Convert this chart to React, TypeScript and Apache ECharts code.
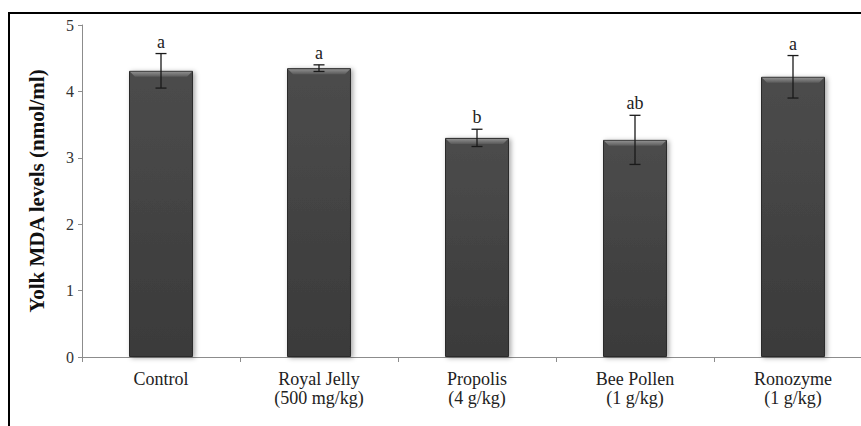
import React, { useEffect, useRef } from "react";
import * as echarts from "echarts";

const categories = [
  "Control",
  "Royal Jelly\n(500 mg/kg)",
  "Propolis\n(4 g/kg)",
  "Bee Pollen\n(1 g/kg)",
  "Ronozyme\n(1 g/kg)",
];
const means = [4.31, 4.35, 3.3, 3.27, 4.22];
const errors = [0.26, 0.05, 0.13, 0.37, 0.32];
const letters = ["a", "a", "b", "ab", "a"];
const yTicks = { min: 0, max: 5, interval: 1 };

const FONT = "Liberation Serif, serif";

export default function App() {
  const ref = useRef<HTMLDivElement>(null);
  useEffect(() => {
    if (!ref.current) return;
    const chart = echarts.init(ref.current, undefined, { renderer: "svg" });
    const overlayData = means.map((m, i) => [i, m, errors[i]]);
    chart.setOption({
      animation: false,
      backgroundColor: "#ffffff",
      grid: {
        left: 82,
        top: 25,
        height: 332,
        width: 790,
        containLabel: false,
        outerBoundsMode: "none",
      },
      graphic: [
        {
          type: "rect",
          shape: { x: 9, y: 13, width: 900, height: 500 },
          style: { fill: "none", stroke: "#000", lineWidth: 2 },
          silent: true,
        },
      ],
      xAxis: {
        type: "category",
        data: categories,
        axisLine: { lineStyle: { color: "#8c8c8c", width: 1 } },
        axisTick: { show: true, length: 5, lineStyle: { color: "#8c8c8c" } },
        axisLabel: {
          fontFamily: FONT,
          fontSize: 18,
          color: "#222",
          lineHeight: 19,
          margin: 12,
          interval: 0,
        },
      },
      yAxis: {
        type: "value",
        min: yTicks.min,
        max: yTicks.max,
        interval: yTicks.interval,
        name: "Yolk MDA levels (nmol/ml)",
        nameLocation: "middle",
        nameGap: 35,
        nameTextStyle: {
          fontFamily: FONT,
          fontSize: 21,
          fontWeight: "bold",
          color: "#111",
        },
        axisLine: { show: true, lineStyle: { color: "#8c8c8c", width: 1 } },
        axisTick: { show: true, length: 4, lineStyle: { color: "#8c8c8c" } },
        axisLabel: { fontFamily: FONT, fontSize: 16, color: "#333", margin: 8 },
        splitLine: { show: false },
      },
      series: [
        {
          type: "bar",
          data: means,
          barWidth: "40.5%",
          itemStyle: {
            color: {
              type: "linear",
              x: 0,
              y: 0,
              x2: 0,
              y2: 1,
              colorStops: [
                { offset: 0, color: "#4c4c4c" },
                { offset: 1, color: "#3a3a3a" },
              ],
            },
            borderColor: "#2c2c2c",
            borderWidth: 1,
            shadowBlur: 5,
            shadowColor: "rgba(0,0,0,0.35)",
            shadowOffsetX: 2,
            shadowOffsetY: 1,
          },
          z: 2,
        },
        {
          type: "custom",
          data: overlayData,
          z: 5,
          renderItem: (params: any, api: any) => {
            const idx = api.value(0);
            const m = api.value(1);
            const e = api.value(2);
            const top = api.coord([idx, m]);
            const bw = api.size([1, 0])[0] * 0.405;
            const x0 = top[0] - bw / 2;
            const x1 = top[0] + bw / 2;
            const bev = 6;
            const hi = api.coord([idx, m + e]);
            const lo = api.coord([idx, m - e]);
            const cap = 5.5;
            return {
              type: "group",
              children: [
                {
                  type: "polygon",
                  shape: {
                    points: [
                      [x0 + 1, top[1] + 1],
                      [x1 - 1, top[1] + 1],
                      [x1 - bev, top[1] + bev],
                      [x0 + bev, top[1] + bev],
                    ],
                  },
                  style: {
                    fill: {
                      type: "linear",
                      x: 0,
                      y: 0,
                      x2: 0,
                      y2: 1,
                      colorStops: [
                        { offset: 0, color: "#8e8e8e" },
                        { offset: 1, color: "#5a5a5a" },
                      ],
                    },
                  },
                },
                {
                  type: "line",
                  shape: { x1: hi[0], y1: hi[1], x2: lo[0], y2: lo[1] },
                  style: { stroke: "#1a1a1a", lineWidth: 1.3 },
                },
                {
                  type: "line",
                  shape: { x1: hi[0] - cap, y1: hi[1], x2: hi[0] + cap, y2: hi[1] },
                  style: { stroke: "#1a1a1a", lineWidth: 1.3 },
                },
                {
                  type: "line",
                  shape: { x1: lo[0] - cap, y1: lo[1], x2: lo[0] + cap, y2: lo[1] },
                  style: { stroke: "#1a1a1a", lineWidth: 1.3 },
                },
                {
                  type: "text",
                  style: {
                    text: letters[idx],
                    x: hi[0],
                    y: hi[1] - 3,
                    align: "center",
                    verticalAlign: "bottom",
                    fontFamily: FONT,
                    fontSize: 18,
                    fill: "#222",
                  },
                },
              ],
            };
          },
        },
      ],
    });
    return () => chart.dispose();
  }, []);
  return (
    <div
      ref={ref}
      style={{ position: "fixed", left: 0, top: 0, width: 861, height: 426 }}
    />
  );
}
